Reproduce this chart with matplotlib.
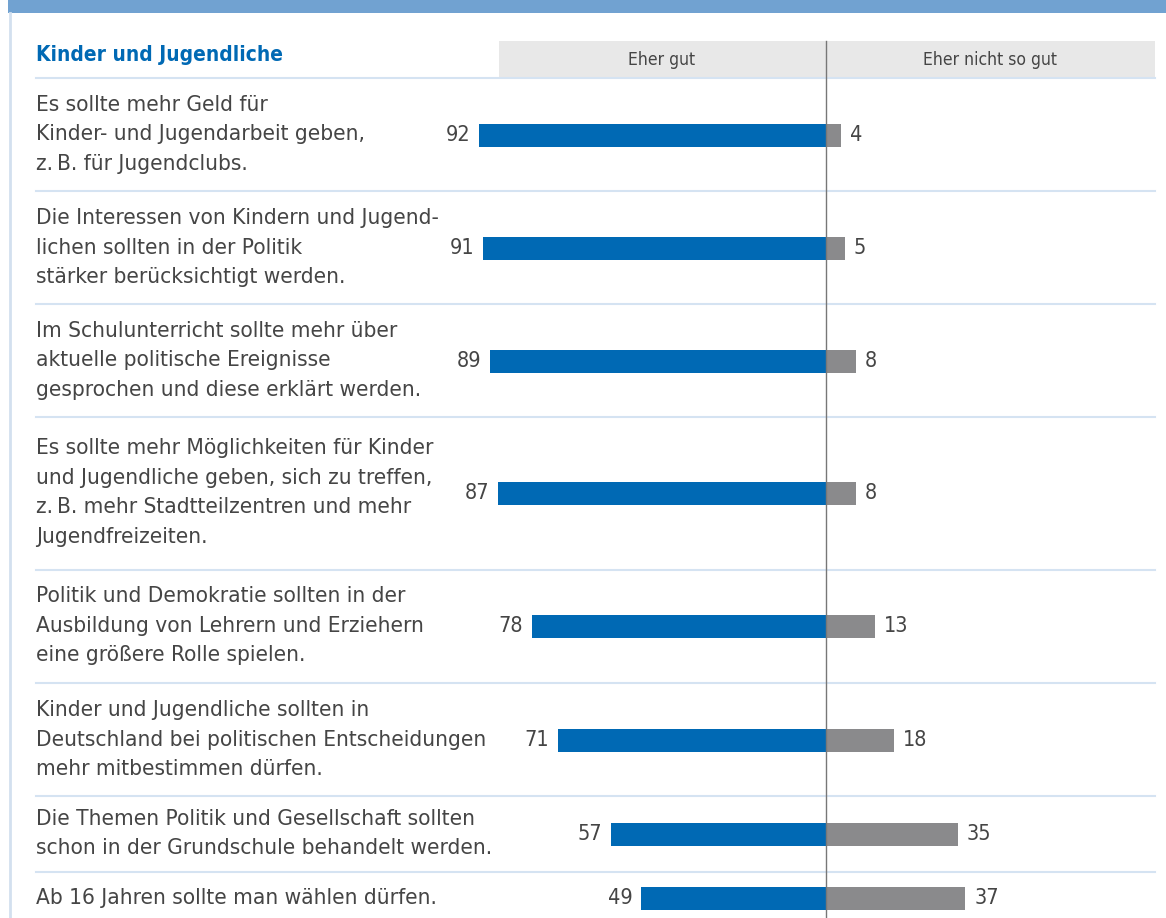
import matplotlib.pyplot as plt
from matplotlib.patches import Rectangle

# data
statements = [
    "Es sollte mehr Geld für\nKinder- und Jugendarbeit geben,\nz.\u2009B. für Jugendclubs.",
    "Die Interessen von Kindern und Jugend-\nlichen sollten in der Politik\nstärker berücksichtigt werden.",
    "Im Schulunterricht sollte mehr über\naktuelle politische Ereignisse\ngesprochen und diese erklärt werden.",
    "Es sollte mehr Möglichkeiten für Kinder\nund Jugendliche geben, sich zu treffen,\nz.\u2009B. mehr Stadtteilzentren und mehr\nJugendfreizeiten.",
    "Politik und Demokratie sollten in der\nAusbildung von Lehrern und Erziehern\neine größere Rolle spielen.",
    "Kinder und Jugendliche sollten in\nDeutschland bei politischen Entscheidungen\nmehr mitbestimmen dürfen.",
    "Die Themen Politik und Gesellschaft sollten\nschon in der Grundschule behandelt werden.",
    "Ab 16 Jahren sollte man wählen dürfen.",
]
eher_gut = [92, 91, 89, 87, 78, 71, 57, 49]
eher_nicht = [4, 5, 8, 8, 13, 18, 35, 37]
title = "Kinder und Jugendliche"
col_labels = ["Eher gut", "Eher nicht so gut"]

# layout (pixels)
W, H = 1166, 918
x0 = 826            # zero line
k = 3.77            # px per percent
row_y = [135, 248, 361, 493, 626, 740, 834, 898]
sep_y = [78, 191, 304, 417, 570, 683, 796, 872]
line_h = 29.5       # px between text lines
base_off = 6.5      # baseline below line centre

BLUE = "#0069B4"
GREY = "#8A8A8C"
TXT = "#454545"
FONT = ["DejaVu Sans"]

fig = plt.figure(figsize=(W / 100, H / 100), dpi=100)
ax = fig.add_axes([0, 0, 1, 1])
ax.set_xlim(-x0 / k, (W - x0) / k)
ax.set_ylim(H, 0)
ax.axis("off")

px = lambda x: (x - x0) / k  # pixel -> data x

# frame decoration
ax.add_patch(Rectangle((px(8), 0), px(W) - px(8), 13, color="#71A2D1", lw=0))
ax.plot([px(9.5), px(9.5)], [13, H], color="#D3E0EF", lw=2)

# header
ax.add_patch(Rectangle((px(499), 41), px(1155) - px(499), 36, color="#E8E8E8", lw=0))
ax.text(px(662), 60, col_labels[0], ha="center", va="center", fontsize=12.6,
        color=TXT, family=FONT, fontstretch="condensed")
ax.text(px(990), 60, col_labels[1], ha="center", va="center", fontsize=12.6,
        color=TXT, family=FONT, fontstretch="condensed")
ax.text(px(36), 55, title, ha="left", va="center", fontsize=15, fontweight="bold",
        color=BLUE, family=FONT, fontstretch="condensed")

for y in sep_y:
    ax.plot([px(36), px(1155)], [y, y], color="#D5E3F2", lw=1.5)

ax.barh(row_y, [-v for v in eher_gut], height=23, left=0, color=BLUE, lw=0)
ax.barh(row_y, eher_nicht, height=23, left=0, color=GREY, lw=0)
ax.plot([0, 0], [41, H], color="#777777", lw=1)

for y, s, g, n in zip(row_y, statements, eher_gut, eher_nicht):
    lines = s.split("\n")
    for i, ln in enumerate(lines):
        ly = y - 1 + (i - (len(lines) - 1) / 2) * line_h + base_off
        ax.text(px(36), ly, ln, ha="left", va="baseline", fontsize=16.2, color=TXT,
                family=FONT, fontstretch="condensed")
    ax.text(-g - 9 / k, y, str(g), ha="right", va="center", fontsize=15.5,
            color=TXT, family=FONT, fontstretch="condensed")
    ax.text(n + 9 / k, y, str(n), ha="left", va="center", fontsize=15.5,
            color=TXT, family=FONT, fontstretch="condensed")

fig.savefig("out.png", dpi=100)
